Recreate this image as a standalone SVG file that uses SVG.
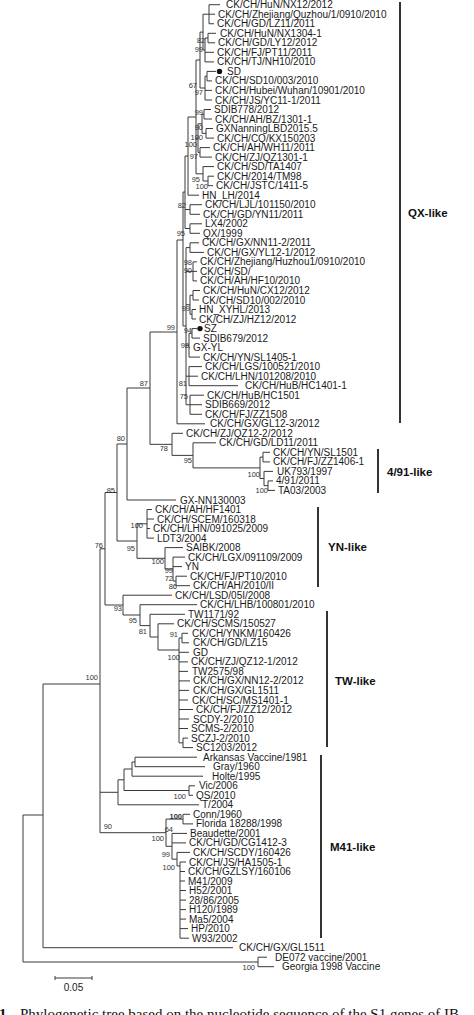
<svg xmlns="http://www.w3.org/2000/svg" width="474" height="1015" viewBox="0 0 474 1015">
<style>
.e{fill:none;stroke:#3a3a3a;stroke-width:1}
.lf{font-family:"Liberation Sans",Arial,sans-serif;font-size:10px;fill:#1a1a1a}
.bs{font-family:"Liberation Sans",Arial,sans-serif;font-size:7.5px;fill:#333;text-anchor:end}
.cl{font-family:"Liberation Sans",Arial,sans-serif;font-size:11.5px;font-weight:bold;fill:#111}
.bar{stroke:#333;stroke-width:2}
.cap{font-family:"Liberation Serif","DejaVu Serif",serif;font-size:15px;fill:#111}
</style>
<rect width="474" height="1015" fill="#fff"/>
<g id="connectors" class="e">
<path d="M209 4.7V23.75M209 4.7H220M209 14.2H215M209 23.75H214"/>
<path d="M208 33.3V42.8M208 33.3H216M208 42.8H215"/>
<path d="M205 38.05V61.9M205 38.05H208M205 52.3H214M205 61.9H214"/>
<path d="M203 14.2V50M203 14.2H209M203 50H205"/>
<path d="M207 71.4V80.9M207 71.4H216M207 80.9H212"/>
<path d="M205 76.15V100M205 76.15H207M205 90.4H212M205 100H212"/>
<path d="M200 32.1V88M200 32.1H203M200 88H205"/>
<path d="M204 109.5V119M204 109.5H211M204 119H212"/>
<path d="M206 128.5V138.1M206 128.5H213M206 138.1H214"/>
<path d="M202 114.25V133.3M202 114.25H204M202 133.3H206"/>
<path d="M200 147.6V157.1M200 147.6H210M200 157.1H212"/>
<path d="M198 123.8V152.35M198 123.8H202M198 152.35H200"/>
<path d="M208 176.2V185.7M208 176.2H214M208 185.7H213"/>
<path d="M203 166.6V181M203 166.6H214M203 181H208"/>
<path d="M196 60V173.8M196 60H200M196 138.1H198M196 173.8H203"/>
<path d="M188 117V195.2M188 117H196M188 195.2H199"/>
<path d="M190 204.7V214.3M190 204.7H202M190 214.3H200"/>
<path d="M190 223.8V233.3M190 223.8H202M190 233.3H200"/>
<path d="M185 156V228.5M185 156H188M185 209.5H190M185 228.5H190"/>
<path d="M190 242.8V252.4M190 242.8H199M190 252.4H204"/>
<path d="M193 261.9V280.9M193 261.9H197M193 271.4H197M193 280.9H197"/>
<path d="M193 290.5V300M193 290.5H200M193 300H199"/>
<path d="M192 309.5V319M192 309.5H196M192 319H196"/>
<path d="M190 295.25V314.25M190 295.25H193M190 314.25H192"/>
<path d="M192 328.6V338.1M192 328.6H197M192 338.1H200"/>
<path d="M189 333.35V357.1M189 333.35H192M189 347.6H190M189 357.1H200"/>
<path d="M189 366.6V385.7M189 366.6H202M189 376.2H198M189 385.7H238"/>
<path d="M190 395.2V414.3M190 395.2H204M190 404.7H202M190 414.3H202"/>
<path d="M186 247.6V404.75M186 247.6H190M186 271.4H193M186 304.75H190M186 345.2H189M186 376.2H189M186 404.75H190"/>
<path d="M183 192V326M183 192H185M183 326H186"/>
<path d="M177 240V423.8M177 240H183M177 423.8H205"/>
<path d="M150 332V444.35M150 332H177M150 444.35H172"/>
<path d="M172 433.3V455.4M172 433.3H183M172 455.4H193"/>
<path d="M193 442.8V467.9M193 442.8H216M193 467.9H260"/>
<path d="M260 457.1V478.5M260 457.1H263M260 478.5H264"/>
<path d="M263 452.3V461.9M263 452.3H270M263 461.9H270"/>
<path d="M264 471.4V485.65M264 471.4H273M264 485.65H268"/>
<path d="M268 480.9V490.4M268 480.9H273M268 490.4H275"/>
<path d="M127 388V500M127 388H150M127 500H176"/>
<path d="M117 444V541M117 444H127M117 541H137"/>
<path d="M147 509.5V538.1M147 509.5H152M147 519H154M147 528.5H150M147 538.1H154"/>
<path d="M176 576.2V585.7M176 576.2H187M176 585.7H190"/>
<path d="M173 557.1V581M173 557.1H185M173 566.6H182M173 581H176"/>
<path d="M165 547.6V569M165 547.6H183M165 569H173"/>
<path d="M137 523.8V558.3M137 523.8H147M137 558.3H165"/>
<path d="M182 633.3V642.8M182 633.3H188M182 642.8H189"/>
<path d="M183 738.1V747.6M183 738.1H188M183 747.6H193"/>
<path d="M179 638V742.85M179 638H182M179 652.3H189M179 661.9H188M179 671.4H188M179 680.9H190M179 690.4H189M179 700H188M179 709.5H193M179 719H189M179 728.5H188M179 742.85H183"/>
<path d="M158 623.8V650M158 623.8H174M158 650H179"/>
<path d="M150 614.3V637M150 614.3H185M150 637H158"/>
<path d="M140 604.7V625.6M140 604.7H197M140 625.6H150"/>
<path d="M123 595.2V615M123 595.2H172M123 615H140"/>
<path d="M105 492.5V605M105 492.5H117M105 605H123"/>
<path d="M100 548.8V832.7M100 548.8H105M100 792.3H118M100 832.7H166"/>
<path d="M135 757.2V766.7M135 757.2H197M135 766.7H205"/>
<path d="M132 762V776.2M132 762H135M132 776.2H203"/>
<path d="M189 785.8V795.3M189 785.8H195M189 795.3H193"/>
<path d="M124 769V790.5M124 769H132M124 790.5H189"/>
<path d="M118 779.8V804.8M118 779.8H124M118 804.8H199"/>
<path d="M183 814.3V823.9M183 814.3H190M183 823.9H193"/>
<path d="M180 862V938.2M180 862H186M180 871.5H185M180 881H185M180 890.5H186M180 900.1H186M180 909.6H186M180 919.1H186M180 928.6H188M180 938.2H189"/>
<path d="M177 852.4V866M177 852.4H190M177 866H180"/>
<path d="M172 833.4V859.2M172 833.4H187M172 842.9H186M172 859.2H177"/>
<path d="M166 819.1V846.3M166 819.1H183M166 846.3H172"/>
<path d="M43 684V947.7M43 684H100M43 947.7H233"/>
<path d="M23 815V962M23 815H43M23 962H258"/>
<path d="M258 957.2V966.7M258 957.2H267M258 966.7H274"/>
</g>
<g id="bootstrap">
<text class="bs" x="205" y="42.7">82</text>
<text class="bs" x="203" y="51.7">99</text>
<text class="bs" x="197" y="87.7">67</text>
<text class="bs" x="203" y="95.2">97</text>
<text class="bs" x="203" y="114.7">99</text>
<text class="bs" x="203" y="129.7">90</text>
<text class="bs" x="203" y="139.7">100</text>
<text class="bs" x="197" y="146.7">100</text>
<text class="bs" x="198" y="158.7">97</text>
<text class="bs" x="200" y="181.7">95</text>
<text class="bs" x="208" y="188.7">100</text>
<text class="bs" x="186" y="207.7">82</text>
<text class="bs" x="185" y="235.7">95</text>
<text class="bs" x="192" y="264.7">98</text>
<text class="bs" x="192" y="272.7">90</text>
<text class="bs" x="190" y="310.7">99</text>
<text class="bs" x="175" y="329.7">99</text>
<text class="bs" x="192" y="332.7">94</text>
<text class="bs" x="189" y="347.7">98</text>
<text class="bs" x="148" y="385.7">87</text>
<text class="bs" x="187" y="385.7">81</text>
<text class="bs" x="188" y="398.7">75</text>
<text class="bs" x="125" y="440.7">80</text>
<text class="bs" x="168" y="450.7">78</text>
<text class="bs" x="192" y="462.7">95</text>
<text class="bs" x="260" y="476.7">100</text>
<text class="bs" x="115" y="492.7">85</text>
<text class="bs" x="268" y="492.7">100</text>
<text class="bs" x="143" y="527.7">100</text>
<text class="bs" x="103" y="547.7">76</text>
<text class="bs" x="135" y="550.7">95</text>
<text class="bs" x="164" y="563.7">100</text>
<text class="bs" x="173" y="572.7">99</text>
<text class="bs" x="173" y="580.7">72</text>
<text class="bs" x="177" y="588.7">86</text>
<text class="bs" x="122" y="610.7">93</text>
<text class="bs" x="137" y="622.7">95</text>
<text class="bs" x="147" y="633.7">81</text>
<text class="bs" x="178" y="636.7">91</text>
<text class="bs" x="180" y="659.7">100</text>
<text class="bs" x="98" y="679.7">100</text>
<text class="bs" x="186" y="798.7">100</text>
<text class="bs" x="182" y="818.7" font-weight="bold">100</text>
<text class="bs" x="112" y="828.7">90</text>
<text class="bs" x="173" y="831.7">64</text>
<text class="bs" x="164" y="840.7">100</text>
<text class="bs" x="170" y="856.7">99</text>
<text class="bs" x="175" y="869.7">100</text>
<text class="bs" x="255" y="969.7">100</text>
</g>
<g id="n0"><text class="lf" x="226" y="8.2">CK/CH/HuN/NX12/2012</text></g>
<g id="n1"><text class="lf" x="218" y="17.7">CK/CH/Zhejiang/Quzhou/1/0910/2010</text></g>
<g id="n2"><text class="lf" x="217" y="27.25">CK/CH/GD/LZ11/2011</text></g>
<g id="n3"><text class="lf" x="220" y="36.8">CK/CH/HuN/NX1304-1</text></g>
<g id="n4"><text class="lf" x="218" y="46.3">CK/CH/GD/LY12/2012</text></g>
<g id="n5"><text class="lf" x="217" y="55.8">CK/CH/FJ/PT11/2011</text></g>
<g id="n6"><text class="lf" x="217" y="65.4">CK/CH/TJ/NH10/2010</text></g>
<g id="n7"><circle cx="219.5" cy="71.4" r="2.7" fill="#111"/><text class="lf" x="227" y="74.9">SD</text></g>
<g id="n8"><text class="lf" x="215" y="84.4">CK/CH/SD10/003/2010</text></g>
<g id="n9"><text class="lf" x="215" y="93.9">CK/CH/Hubei/Wuhan/10901/2010</text></g>
<g id="n10"><text class="lf" x="215" y="103.5">CK/CH/JS/YC11-1/2011</text></g>
<g id="n11"><text class="lf" x="214" y="113">SDIB778/2012</text></g>
<g id="n12"><text class="lf" x="215" y="122.5">CK/CH/AH/BZ/1301-1</text></g>
<g id="n13"><text class="lf" x="216" y="132">GXNanningLBD2015.5</text></g>
<g id="n14"><text class="lf" x="217" y="141.6">CK/CH/CQ/KX150203</text></g>
<g id="n15"><text class="lf" x="213" y="151.1">CK/CH/AH/WH11/2011</text></g>
<g id="n16"><text class="lf" x="215" y="160.6">CK/CH/ZJ/QZ1301-1</text></g>
<g id="n17"><text class="lf" x="217" y="170.1">CK/CH/SD/TA1407</text></g>
<g id="n18"><text class="lf" x="217" y="179.7">CK/CH/2014/TM98</text></g>
<g id="n19"><text class="lf" x="216" y="189.2">CK/CH/JSTC/1411-5</text></g>
<g id="n20"><text class="lf" x="202" y="198.7">HN_LH/2014</text></g>
<g id="n21"><text class="lf" x="205" y="208.2">CK/CH/LJL/101150/2010</text></g>
<g id="n22"><text class="lf" x="203" y="217.8">CK/CH/GD/YN11/2011</text></g>
<g id="n23"><text class="lf" x="205" y="227.3">LX4/2002</text></g>
<g id="n24"><text class="lf" x="203" y="236.8">QX/1999</text></g>
<g id="n25"><text class="lf" x="202" y="246.3">CK/CH/GX/NN11-2/2011</text></g>
<g id="n26"><text class="lf" x="207" y="255.9">CK/CH/GX/YL12-1/2012</text></g>
<g id="n27"><text class="lf" x="200" y="265.4">CK/CH/Zhejiang/Huzhou1/0910/2010</text></g>
<g id="n28"><text class="lf" x="200" y="274.9">CK/CH/SD/</text></g>
<g id="n29"><text class="lf" x="200" y="284.4">CK/CH/AH/HF10/2010</text></g>
<g id="n30"><text class="lf" x="203" y="294">CK/CH/HuN/CX12/2012</text></g>
<g id="n31"><text class="lf" x="202" y="303.5">CK/CH/SD10/002/2010</text></g>
<g id="n32"><text class="lf" x="199" y="313">HN_XYHL/2013</text></g>
<g id="n33"><text class="lf" x="199" y="322.5">CK/CH/ZJ/HZ12/2012</text></g>
<g id="n34"><circle cx="200" cy="328.6" r="2.7" fill="#111"/><text class="lf" x="204" y="332.1">SZ</text></g>
<g id="n35"><text class="lf" x="203" y="341.6">SDIB679/2012</text></g>
<g id="n36"><text class="lf" x="193" y="351.1">GX-YL</text></g>
<g id="n37"><text class="lf" x="203" y="360.6">CK/CH/YN/SL1405-1</text></g>
<g id="n38"><text class="lf" x="205" y="370.1">CK/CH/LGS/100521/2010</text></g>
<g id="n39"><text class="lf" x="201" y="379.7">CK/CH/LHN/101208/2010</text></g>
<g id="n40"><text class="lf" x="245" y="389.2">CK/CH/HuB/HC1401-1</text></g>
<g id="n41"><text class="lf" x="207" y="398.7">CK/CH/HuB/HC1501</text></g>
<g id="n42"><text class="lf" x="205" y="408.2">SDIB669/2012</text></g>
<g id="n43"><text class="lf" x="205" y="417.8">CK/CH/FJ/ZZ1508</text></g>
<g id="n44"><text class="lf" x="210" y="427.3">CK/CH/GX/GL12-3/2012</text></g>
<g id="n45"><text class="lf" x="186" y="436.8">CK/CH/ZJ/QZ12-2/2012</text></g>
<g id="n46"><text class="lf" x="219" y="446.3">CK/CH/GD/LD11/2011</text></g>
<g id="n47"><text class="lf" x="273" y="455.8">CK/CH/YN/SL1501</text></g>
<g id="n48"><text class="lf" x="273" y="465.4">CK/CH/FJ/ZZ1406-1</text></g>
<g id="n49"><text class="lf" x="277" y="474.9">UK793/1997</text></g>
<g id="n50"><text class="lf" x="276" y="484.4">4/91/2011</text></g>
<g id="n51"><text class="lf" x="278" y="493.9">TA03/2003</text></g>
<g id="n52"><text class="lf" x="180" y="503.5">GX-NN130003</text></g>
<g id="n53"><text class="lf" x="155" y="513">CK/CH/AH/HF1401</text></g>
<g id="n54"><text class="lf" x="157" y="522.5">CK/CH/SCEM/160318</text></g>
<g id="n55"><text class="lf" x="153" y="532">CK/CH/LHN/091025/2009</text></g>
<g id="n56"><text class="lf" x="157" y="541.6">LDT3/2004</text></g>
<g id="n57"><text class="lf" x="186" y="551.1">SAIBK/2008</text></g>
<g id="n58"><text class="lf" x="188" y="560.6">CK/CH/LGX/091109/2009</text></g>
<g id="n59"><text class="lf" x="185" y="570.1">YN</text></g>
<g id="n60"><text class="lf" x="190" y="579.7">CK/CH/FJ/PT10/2010</text></g>
<g id="n61"><text class="lf" x="193" y="589.2">CK/CH/AH/2010/II</text></g>
<g id="n62"><text class="lf" x="175" y="598.7">CK/CH/LSD/05I/2008</text></g>
<g id="n63"><text class="lf" x="200" y="608.2">CK/CH/LHB/100801/2010</text></g>
<g id="n64"><text class="lf" x="188" y="617.8">TW1171/92</text></g>
<g id="n65"><text class="lf" x="177" y="627.3">CK/CH/SCMS/150527</text></g>
<g id="n66"><text class="lf" x="192" y="636.8">CK/CH/YNKM/160426</text></g>
<g id="n67"><text class="lf" x="193" y="646.3">CK/CH/GD/LZ15</text></g>
<g id="n68"><text class="lf" x="193" y="655.8">GD</text></g>
<g id="n69"><text class="lf" x="191" y="665.4">CK/CH/ZJ/QZ12-1/2012</text></g>
<g id="n70"><text class="lf" x="192" y="674.9">TW2575/98</text></g>
<g id="n71"><text class="lf" x="193" y="684.4">CK/CH/GX/NN12-2/2012</text></g>
<g id="n72"><text class="lf" x="193" y="693.9">CK/CH/GX/GL1511</text></g>
<g id="n73"><text class="lf" x="192" y="703.5">CK/CH/SC/MS1401-1</text></g>
<g id="n74"><text class="lf" x="196" y="713">CK/CH/FJ/ZZ12/2012</text></g>
<g id="n75"><text class="lf" x="193" y="722.5">SCDY-2/2010</text></g>
<g id="n76"><text class="lf" x="191" y="732">SCMS-2/2010</text></g>
<g id="n77"><text class="lf" x="191" y="741.6">SCZJ-2/2010</text></g>
<g id="n78"><text class="lf" x="196" y="751.1">SC1203/2012</text></g>
<g id="n79"><text class="lf" x="203" y="760.7">Arkansas Vaccine/1981</text></g>
<g id="n80"><text class="lf" x="213" y="770.2">Gray/1960</text></g>
<g id="n81"><text class="lf" x="212" y="779.7">Holte/1995</text></g>
<g id="n82"><text class="lf" x="199" y="789.3">Vic/2006</text></g>
<g id="n83"><text class="lf" x="196" y="798.8">QS/2010</text></g>
<g id="n84"><text class="lf" x="202" y="808.3">T/2004</text></g>
<g id="n85"><text class="lf" x="193" y="817.8">Conn/1960</text></g>
<g id="n86"><text class="lf" x="196" y="827.4">Florida 18288/1998</text></g>
<g id="n87"><text class="lf" x="190" y="836.9">Beaudette/2001</text></g>
<g id="n88"><text class="lf" x="189" y="846.4">CK/CH/GD/CG1412-3</text></g>
<g id="n89"><text class="lf" x="193" y="855.9">CK/CH/SCDY/160426</text></g>
<g id="n90"><text class="lf" x="189" y="865.5">CK/CH/JS/HA1505-1</text></g>
<g id="n91"><text class="lf" x="188" y="875">CK/CH/GZLSY/160106</text></g>
<g id="n92"><text class="lf" x="188" y="884.5">M41/2009</text></g>
<g id="n93"><text class="lf" x="189" y="894">H52/2001</text></g>
<g id="n94"><text class="lf" x="189" y="903.6">28/86/2005</text></g>
<g id="n95"><text class="lf" x="189" y="913.1">H120/1989</text></g>
<g id="n96"><text class="lf" x="189" y="922.6">Ma5/2004</text></g>
<g id="n97"><text class="lf" x="191" y="932.1">HP/2010</text></g>
<g id="n98"><text class="lf" x="192" y="941.7">W93/2002</text></g>
<g id="n99"><text class="lf" x="239" y="951.2">CK/CH/GX/GL1511</text></g>
<g id="n100"><text class="lf" x="275" y="960.7">DE072 vaccine/2001</text></g>
<g id="n101"><text class="lf" x="282" y="970.2">Georgia 1998 Vaccine</text></g>
<g id="clades">
<line class="bar" x1="400" y1="2" x2="400" y2="423"/><text class="cl" x="408" y="217">QX-like</text>
<line class="bar" x1="378" y1="449" x2="378" y2="493"/><text class="cl" x="387" y="476">4/91-like</text>
<line class="bar" x1="318" y1="507" x2="318" y2="587"/><text class="cl" x="328" y="551">YN-like</text>
<line class="bar" x1="327" y1="611" x2="327" y2="747"/><text class="cl" x="335" y="685">TW-like</text>
<line class="bar" x1="321" y1="755" x2="321" y2="938"/><text class="cl" x="330" y="851">M41-like</text>
</g>
<g id="scale">
<path class="e" d="M55 978H92M55 976V980M92 976V980"/>
<text class="lf" x="73.5" y="991" text-anchor="middle">0.05</text>
</g>
<g id="caption">
<text class="cap" x="-1" y="1019" font-weight="bold">1</text>
<text class="cap" x="20" y="1019">Phylogenetic tree based on the nucleotide sequence of the S1 genes of IB</text>
</g>
</svg>
